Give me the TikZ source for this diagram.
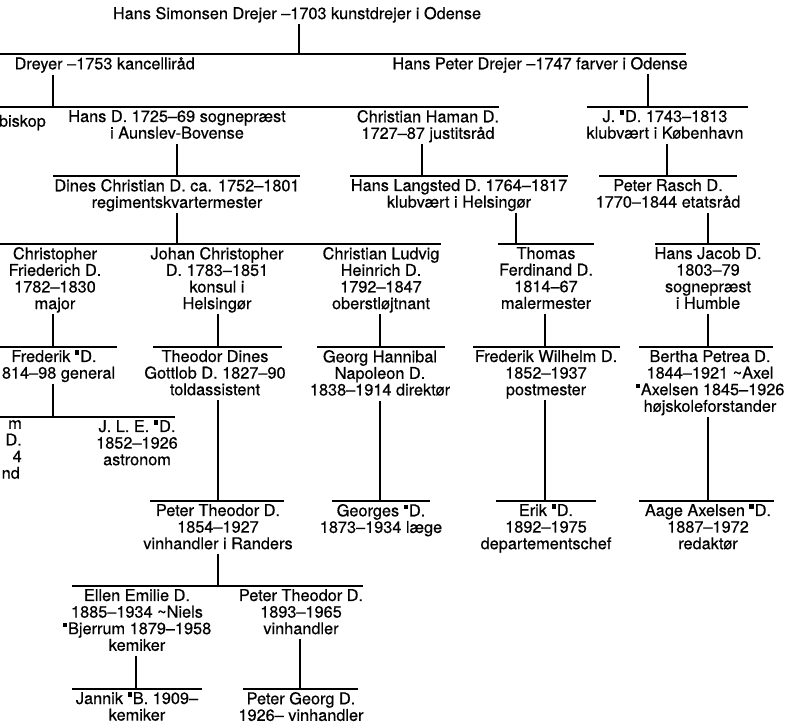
\documentclass[tikz,border=0pt]{standalone}
\usepackage{fontspec}
\setmainfont{TeX Gyre Heros}[FakeBold=0.5]
\newfontfamily\heavyfont{TeX Gyre Heros}[FakeBold=0.5]
\newcommand\sqm{\rule[7.2pt]{4.4pt}{4.4pt}\kern0.9pt}
\newcommand\swd{\textasciitilde}
\begin{document}
\begin{tikzpicture}[x=1pt,y=-1pt,
  person/.style={align=center,inner sep=0pt,anchor=north,
    font=\heavyfont\fontsize{16.3}{16.6}\selectfont,
    execute at begin node=\strut,execute at end node=\strut},
  bar/.style={line width=1.4pt},
  link/.style={line width=1.4pt}]
\useasboundingbox (0,0) rectangle (786,724);
\clip (0,0) rectangle (786,724);

% ---------- persons ----------
\node[person] (top) at (297,6.7) {Hans Simonsen Drejer –1703 kunstdrejer i Odense};

\node[person,anchor=north east] (dreyer) at (195,56.9) {Dreyer –1753 kancelliråd};
\node[person] (hanspeter) at (540,56.9) {Hans Peter Drejer –1747 farver i Odense};

\node[person,align=right,anchor=north east] (biskop) at (46,109.9) {\\biskop};
\node[person] (hansD) at (177,109.9) {Hans D. 1725–69 sognepræst\\i Aunslev-Bovense};
\node[person] (haman) at (428,109.9) {Christian Haman D.\\1727–87 justitsråd};
\node[person] (jd) at (665,109.9) {J. \sqm D. 1743–1813\\klubvært i København};

\node[person] (dines) at (177,178.9) {Dines Christian D. ca. 1752–1801\\regimentskvartermester};
\node[person] (langsted) at (459,178.9) {Hans Langsted D. 1764–1817\\klubvært i Helsingør};
\node[person] (rasch) at (668,178.9) {Peter Rasch D.\\1770–1844 etatsråd};

\node[person] (christopher) at (55,246.9) {Christopher\\Friederich D.\\1782–1830\\major};
\node[person] (johan) at (217,246.9) {Johan Christopher\\D. 1783–1851\\konsul i\\Helsingør};
\node[person] (ludvig) at (381,246.9) {Christian Ludvig\\Heinrich D.\\1792–1847\\oberstløjtnant};
\node[person] (thomas) at (546,246.9) {Thomas\\Ferdinand D.\\1814–67\\malermester};
\node[person] (jacob) at (708,246.9) {Hans Jacob D.\\1803–79\\sognepræst\\i Humble};

\node[person] (frederik) at (54,349.9) {Frederik \sqm D.\\1814–98 general};
\node[person] (theodor) at (215,349.9) {Theodor Dines\\Gottlob D. 1827–90\\toldassistent};
\node[person] (georg) at (380,349.9) {Georg Hannibal\\Napoleon D.\\1838–1914 direktør};
\node[person] (fwilhelm) at (546,349.9) {Frederik Wilhelm D.\\1852–1937\\postmester};
\node[person] (bertha) at (710,349.9) {Bertha Petrea D.\\1844–1921 \swd Axel\\\sqm Axelsen 1845–1926\\højskoleforstander};

\node[person,align=right,anchor=north east] (mnode) at (22,419.9) {m\\D.\hspace*{2pt}\\4\hspace*{10pt}\\nd\hspace*{2pt}};
\node[person] (jle) at (137,419.9) {J. L. E. \sqm D.\\1852–1926\\astronom};

\node[person] (ptheodor) at (218,503.9) {Peter Theodor D.\\1854–1927\\vinhandler i Randers};
\node[person] (georges) at (381,503.9) {Georges \sqm D.\\1873–1934 læge};
\node[person] (erik) at (546,503.9) {Erik \sqm D.\\1892–1975\\departementschef};
\node[person] (aage) at (708,503.9) {Aage Axelsen \sqm D.\\1887–1972\\redaktør};

\node[person] (ellen) at (137,588.9) {Ellen Emilie D.\\1885–1934 \swd Niels\\\sqm Bjerrum 1879–1958\\kemiker};
\node[person] (ptheodorb) at (301,588.9) {Peter Theodor D.\\1893–1965\\vinhandler};

\node[person] (jannik) at (137,691.9) {Jannik \sqm B. 1909–\\kemiker};
\node[person] (pgeorg) at (301,691.9) {Peter Georg D.\\1926– vinhandler};

% ---------- sibling bars ----------
\coordinate (b0l) at (0,54);    \coordinate (b0r) at (686,54);
\coordinate (b1l) at (0,107);   \coordinate (b1r) at (499,107);
\coordinate (b2l) at (587,107); \coordinate (b2r) at (748,107);
\coordinate (b3l) at (53,176);  \coordinate (b3r) at (300,176);
\coordinate (b4l) at (350,176); \coordinate (b4r) at (568,176);
\coordinate (b5l) at (599,176); \coordinate (b5r) at (737,176);
\coordinate (b6l) at (0,244);   \coordinate (b6r) at (441,244);
\coordinate (b7l) at (498,244); \coordinate (b7r) at (594,244);
\coordinate (b8l) at (655,244); \coordinate (b8r) at (760,244);
\coordinate (b9l) at (0,347);   \coordinate (b9r) at (117,347);
\coordinate (b10l) at (153,347); \coordinate (b10r) at (282,347);
\coordinate (b11l) at (317,347); \coordinate (b11r) at (445,347);
\coordinate (b12l) at (473,347); \coordinate (b12r) at (620,347);
\coordinate (b13l) at (639,347); \coordinate (b13r) at (773,347);
\coordinate (b14l) at (0,417);   \coordinate (b14r) at (175,417);
\coordinate (b15l) at (150,501); \coordinate (b15r) at (284,501);
\coordinate (b16l) at (332,501); \coordinate (b16r) at (430,501);
\coordinate (b17l) at (496,501); \coordinate (b17r) at (596,501);
\coordinate (b18l) at (639,501); \coordinate (b18r) at (774,501);
\coordinate (b19l) at (72,586);  \coordinate (b19r) at (363,586);
\coordinate (b20l) at (72,689);  \coordinate (b20r) at (202,689);
\coordinate (b21l) at (243,689); \coordinate (b21r) at (358,689);
\foreach \i in {0,...,21} {\draw[bar] (b\i l) -- (b\i r);}

% ---------- junctions of parent links ----------
\coordinate (j0) at (299,54);
\coordinate (j1) at (53,107);
\coordinate (j2) at (648,107);
\coordinate (j3) at (177,176);
\coordinate (j4) at (422,176);
\coordinate (j5) at (667,176);
\coordinate (j6) at (177,244);
\coordinate (j7) at (516,244);
\coordinate (j8) at (708,244);
\coordinate (j9) at (53,347);
\coordinate (j10) at (218,347);
\coordinate (j11) at (380,347);
\coordinate (j12) at (545,347);
\coordinate (j13) at (708,347);
\coordinate (j14) at (53,417);
\coordinate (j15) at (218,501);
\coordinate (j16) at (380,501);
\coordinate (j17) at (545,501);
\coordinate (j18) at (708,501);
\coordinate (j19) at (218,586);
\coordinate (j20) at (136,689);
\coordinate (j21) at (300,689);

\draw[link] (top.south -| j0) -- (j0);
\draw[link] (dreyer.south -| j1) -- (j1);
\draw[link] (hanspeter.south -| j2) -- (j2);
\draw[link] (hansD.south -| j3) -- (j3);
\draw[link] (haman.south -| j4) -- (j4);
\draw[link] (jd.south -| j5) -- (j5);
\draw[link] (dines.south -| j6) -- (j6);
\draw[link] (langsted.south -| j7) -- (j7);
\draw[link] (rasch.south -| j8) -- (j8);
\draw[link] (christopher.south -| j9) -- (j9);
\draw[link] (johan.south -| j10) -- (j10);
\draw[link] (ludvig.south -| j11) -- (j11);
\draw[link] (thomas.south -| j12) -- (j12);
\draw[link] (jacob.south -| j13) -- (j13);
\draw[link] (frederik.south -| j14) -- (j14);
\draw[link] (theodor.south -| j15) -- (j15);
\draw[link] (georg.south -| j16) -- (j16);
\draw[link] (fwilhelm.south -| j17) -- (j17);
\draw[link] (bertha.south -| j18) -- (j18);
\draw[link] (ptheodor.south -| j19) -- (j19);
\draw[link] (ellen.south -| j20) -- (j20);
\draw[link] (ptheodorb.south -| j21) -- (j21);
\end{tikzpicture}
\end{document}
